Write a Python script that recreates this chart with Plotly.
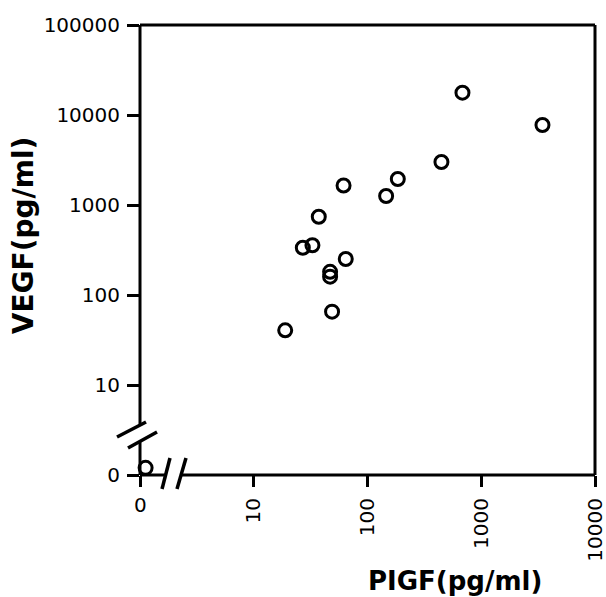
import math
import plotly.graph_objects as go

# Data (pg/ml); the first point is the 0/0 sample drawn at the axis origin
plgf = [1.12, 18.9, 27.0, 32.8, 37.3, 46.9, 46.9, 48.8, 61.6, 64.4, 145.8, 184.7, 446.7, 683.6, 3453]
vegf = [1.2, 40.5, 335, 357, 741, 181, 160, 65.3, 1648, 251, 1259, 1945, 3004, 17700, 7743]

x_tickvals = [1, 10, 100, 1000, 10000]
x_ticktext = ["0", "10", "100", "1000", "10000"]
y_tickvals = [1, 10, 100, 1000, 10000, 100000]
y_ticktext = ["0", "10", "100", "1000", "10000", "100000"]

x_title = "PIGF(pg/ml)"
y_title = "VEGF(pg/ml)"

W, H = 606, 597
FONT = "DejaVu Sans"

fig = go.Figure()
fig.add_trace(go.Scatter(
    x=plgf, y=vegf, mode="markers",
    marker=dict(symbol="circle-open", size=13, color="black",
                line=dict(width=3, color="black")),
    cliponaxis=False, showlegend=False, hoverinfo="x+y",
))

LW = 3
shapes = []
def seg(x0, y0, x1, y1, w=LW):
    shapes.append(dict(type="line", xref="paper", yref="paper",
                       x0=x0, y0=y0, x1=x1, y1=y1,
                       line=dict(color="black", width=w)))

# frame: top and right
seg(0.0, 1.0, 1.0, 1.0)
seg(1.0, 1.0, 1.0, 0.0)
# left axis with break
seg(0.0, 1.0, 0.0, 0.111)
seg(0.0, 0.073, 0.0, 0.0)
# bottom axis with break
seg(0.0, 0.0, 0.057, 0.0)
seg(0.090, 0.0, 1.0, 0.0)
# break marks on y axis
seg(-0.0505, 0.0844, 0.0132, 0.1178, 3.5)
seg(-0.0264, 0.060, 0.0374, 0.0956, 3.5)
# break marks on x axis
seg(0.0484, -0.0311, 0.0659, 0.0378, 3.5)
seg(0.0813, -0.0311, 0.1011, 0.0378, 3.5)

tickfont = dict(family=FONT, size=20, color="black")
titlefont = dict(family=FONT, size=26, color="black", weight="bold")

fig.update_layout(
    width=W, height=H,
    margin=dict(l=140, r=11, t=25, b=122, pad=0),
    paper_bgcolor="white", plot_bgcolor="white",
    shapes=shapes,
    xaxis=dict(
        type="log", range=[0, 4], showgrid=False, zeroline=False, showline=False,
        automargin=False, ticklabeloverflow="allow",
        tickvals=x_tickvals, ticktext=[""] + x_ticktext[1:],
        tickangle=-90, ticks="outside", ticklen=11, tickwidth=3, tickcolor="black",
        tickfont=tickfont, ticklabelstandoff=3,
    ),
    yaxis=dict(
        type="log", range=[0, 5], showgrid=False, zeroline=False, showline=False,
        automargin=False, ticklabeloverflow="allow",
        tickvals=y_tickvals, ticktext=y_ticktext,
        ticks="outside", ticklen=12, tickwidth=3, tickcolor="black",
        tickfont=tickfont, ticklabelstandoff=3,
    ),
    annotations=[
        dict(x=math.log10(x_tickvals[0]), xref="x", y=-0.067, yref="paper",
             text=x_ticktext[0], showarrow=False, xanchor="center", yanchor="middle",
             font=tickfont),
        dict(x=0.692, xref="paper", y=-0.235, yref="paper", text=x_title,
             showarrow=False, xanchor="center", yanchor="middle", font=titlefont),
        dict(x=-0.257, xref="paper", y=0.533, yref="paper", text=y_title,
             textangle=-90, showarrow=False, xanchor="center", yanchor="middle",
             font=dict(family=FONT, size=28, color="black", weight="bold")),
    ],
)

fig.write_html("out.html", config={"displayModeBar": False},
               post_script="document.body.style.margin='0';document.body.style.overflow='hidden';")
